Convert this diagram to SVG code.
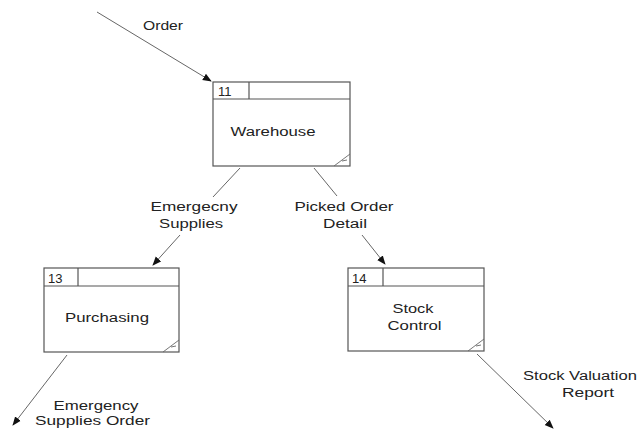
<svg xmlns="http://www.w3.org/2000/svg" width="640" height="429" viewBox="0 0 640 429">
  <style>
    .box { fill: #fff; stroke: #555; stroke-width: 1.2; }
    .rule { stroke: #555; stroke-width: 1.2; fill: none; }
    .fold { stroke: #666; stroke-width: 0.9; fill: none; }
    .num { font-family: "Liberation Sans", Arial, sans-serif; font-size: 13px; fill: #222; }
    .name { font-family: "Liberation Sans", Arial, sans-serif; font-size: 12px; fill: #222; text-anchor: middle; }
    .flow { stroke: #555; stroke-width: 0.9; fill: none; }
    .lbl { font-family: "Liberation Sans", Arial, sans-serif; font-size: 12px; fill: #222; text-anchor: middle; }
  </style>
  <defs>
    <marker id="arrow" viewBox="0 0 10 10" refX="9" refY="5" markerWidth="9" markerHeight="9" markerUnits="userSpaceOnUse" orient="auto">
      <path d="M0,1 L10,5 L0,9 Z" fill="#111"/>
    </marker>
  </defs>

  <g id="connectors">
    <!-- Order into Warehouse -->
    <line class="flow" x1="97" y1="12" x2="211" y2="81" marker-end="url(#arrow)"/>
    <text class="lbl" x="163" y="30" textLength="40" lengthAdjust="spacingAndGlyphs">Order</text>
    <!-- Warehouse to Purchasing -->
    <line class="flow" x1="240" y1="168" x2="213" y2="197"/>
    <line class="flow" x1="180" y1="235" x2="153" y2="265" marker-end="url(#arrow)"/>
    <text class="lbl" x="194" y="210.5" textLength="87" lengthAdjust="spacingAndGlyphs">Emergecny</text>
    <text class="lbl" x="191" y="228" textLength="64" lengthAdjust="spacingAndGlyphs">Supplies</text>
    <!-- Warehouse to Stock Control -->
    <line class="flow" x1="314" y1="168" x2="337" y2="196"/>
    <line class="flow" x1="362" y1="235" x2="385" y2="264" marker-end="url(#arrow)"/>
    <text class="lbl" x="344" y="210.5" textLength="99" lengthAdjust="spacingAndGlyphs">Picked Order</text>
    <text class="lbl" x="345" y="228" textLength="44" lengthAdjust="spacingAndGlyphs">Detail</text>
    <!-- Purchasing outgoing -->
    <line class="flow" x1="67" y1="355" x2="13" y2="425" marker-end="url(#arrow)"/>
    <text class="lbl" x="96" y="410" textLength="85" lengthAdjust="spacingAndGlyphs">Emergency</text>
    <text class="lbl" x="92.5" y="425" textLength="115" lengthAdjust="spacingAndGlyphs">Supplies Order</text>
    <!-- Stock Control outgoing -->
    <line class="flow" x1="477" y1="354" x2="553" y2="428" marker-end="url(#arrow)"/>
    <text class="lbl" x="580" y="380" textLength="114" lengthAdjust="spacingAndGlyphs">Stock Valuation</text>
    <text class="lbl" x="588" y="397" textLength="52" lengthAdjust="spacingAndGlyphs">Report</text>
  </g>

  <g id="node-11">
    <rect class="box" x="213" y="82" width="137" height="84"/>
    <line class="rule" x1="213" y1="99" x2="350" y2="99"/>
    <line class="rule" x1="249" y1="82" x2="249" y2="99"/>
    <text class="num" x="218" y="96">11</text>
    <text class="name" x="273" y="136" textLength="85" lengthAdjust="spacingAndGlyphs">Warehouse</text>
    <path class="fold" d="M334,166 L350,154 M342,161 L347,160"/>
  </g>

  <g id="node-13">
    <rect class="box" x="44" y="268" width="135" height="84"/>
    <line class="rule" x1="44" y1="286" x2="179" y2="286"/>
    <line class="rule" x1="78" y1="268" x2="78" y2="286"/>
    <text class="num" x="48" y="283">13</text>
    <text class="name" x="107" y="321.5" textLength="84" lengthAdjust="spacingAndGlyphs">Purchasing</text>
    <path class="fold" d="M163,352 L179,340 M171,347 L176,346"/>
  </g>

  <g id="node-14">
    <rect class="box" x="348" y="268" width="136" height="83"/>
    <line class="rule" x1="348" y1="286" x2="484" y2="286"/>
    <line class="rule" x1="383" y1="268" x2="383" y2="286"/>
    <text class="num" x="352" y="283">14</text>
    <text class="name" x="413" y="313" textLength="41" lengthAdjust="spacingAndGlyphs">Stock</text>
    <text class="name" x="414.5" y="330" textLength="54" lengthAdjust="spacingAndGlyphs">Control</text>
    <path class="fold" d="M468,351 L484,339 M476,346 L481,345"/>
  </g>
</svg>
